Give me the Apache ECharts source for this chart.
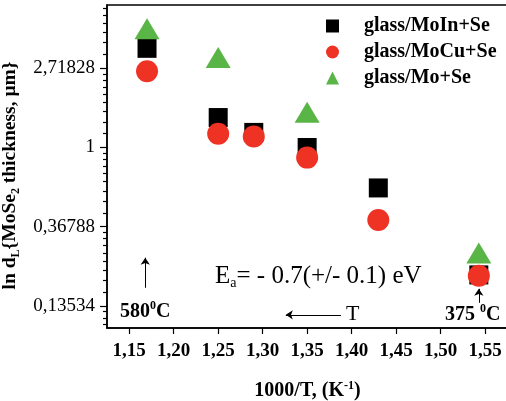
<!DOCTYPE html>
<html>
<head>
<meta charset="utf-8">
<script src="https://cdn.jsdelivr.net/npm/echarts@6/dist/echarts.min.js"></script>
<style>html,body{margin:0;padding:0;background:#fff}#c{width:506px;height:401px}</style>
</head>
<body>
<div id="c"></div>
<script>
// 1000/T values (K^-1)
var xMoIn = [1.17, 1.25, 1.29, 1.35, 1.43, 1.543];
var xMoCu = [1.17, 1.25, 1.29, 1.35, 1.43, 1.543];
var xMo   = [1.17, 1.25, 1.35, 1.543];
// thickness d_L (um)
var dMoIn = [3.50, 1.46, 1.21, 1.00, 0.60, 0.20];
var dMoCu = [2.62, 1.19, 1.15, 0.88, 0.40, 0.198];
var dMo   = [4.48, 3.12, 1.56, 0.264];
var seriesNames = ['glass/MoIn+Se', 'glass/MoCu+Se', 'glass/Mo+Se'];
var xTicks = [1.15, 1.20, 1.25, 1.30, 1.35, 1.40, 1.45, 1.50, 1.55];
var yTickLn = [-2, -1, 0, 1];
var yTickLabels = ['0,13534', '0,36788', '1', '2,71828'];

var xMin = 1.125, xMax = 1.5758;
var yMin = -2.28, yMax = 1.80;
function pts(xs, ds) { return xs.map(function (x, i) { return [x, Math.log(ds[i])]; }); }
var minor = [];
for (var n = -3; n <= 1; n++) {
  var a = Math.exp(n), b = Math.exp(n + 1);
  for (var k = 1; k <= 8; k++) {
    var v = Math.log(a + k * (b - a) / 9);
    if (v > yMin && v < yMax) minor.push(v);
  }
}
var serif = 'Liberation Serif';
var chart = echarts.init(document.getElementById('c'));
chart.setOption({
  animation: false,
  grid: { left: 107, top: 5, right: -2, bottom: 73, containLabel: false, outerBoundsMode: 'none',
          show: true, borderColor: '#000', borderWidth: 1.5, backgroundColor: 'transparent' },
  legend: {
    orient: 'vertical', left: 321, top: 11, itemWidth: 13, itemHeight: 13, itemGap: 6,
    data: seriesNames,
    textStyle: { fontFamily: serif, fontWeight: 'bold', fontSize: 20, color: '#000', padding: [0, 0, 0, 20] }
  },
  xAxis: {
    type: 'value', min: xMin, max: xMax, position: 'bottom',
    axisLine: { show: true, onZero: false, lineStyle: { color: '#000', width: 1.5 } },
    axisTick: { show: true, customValues: xTicks, length: 6, lineStyle: { color: '#000', width: 1.2 } },
    axisLabel: { customValues: xTicks, margin: 14, fontFamily: serif, fontWeight: 'bold', fontSize: 19, color: '#000',
      formatter: function (v) { return v.toFixed(2).replace('.', ','); } },
    splitLine: { show: false },
    name: '{b|1000/T, (K}{p|-1}{b|)}', nameLocation: 'middle', nameGap: 52,
    nameTextStyle: { rich: {
      b: { fontFamily: serif, fontWeight: 'bold', fontSize: 20, color: '#000', lineHeight: 22 },
      p: { fontFamily: serif, fontWeight: 'bold', fontSize: 12, color: '#000', lineHeight: 22, verticalAlign: 'top' }
    } }
  },
  yAxis: [{
    type: 'value', min: yMin, max: yMax, position: 'left',
    axisLine: { show: true, onZero: false, lineStyle: { color: '#000', width: 1.5 } },
    axisTick: { show: true, customValues: yTickLn, length: 7, lineStyle: { color: '#000', width: 1.2 } },
    axisLabel: { customValues: yTickLn, margin: 12, fontFamily: serif, fontSize: 19, color: '#000',
      formatter: function (v) { return yTickLabels[yTickLn.indexOf(Math.round(v))]; } },
    splitLine: { show: false },
    name: '{b|ln d}{s|L}{b|{MoSe}{s|2}{b| thickness, μm}}', nameLocation: 'middle', nameRotate: 90, nameGap: 77,
    nameTextStyle: { padding: [0, 18, 0, 0], fontFamily: serif, fontWeight: 'bold', fontSize: 19.5, color: '#000', lineHeight: 24,
      rich: {
      b: { fontFamily: serif, fontWeight: 'bold', fontSize: 19.5, color: '#000', lineHeight: 24 },
      s: { fontFamily: serif, fontWeight: 'bold', fontSize: 12, color: '#000', lineHeight: 24, verticalAlign: 'bottom' }
    } }
  }, {
    type: 'value', min: yMin, max: yMax, position: 'left',
    axisLine: { show: false, onZero: false },
    axisTick: { show: true, customValues: minor, length: 4, lineStyle: { color: '#000', width: 1.2 } },
    axisLabel: { show: false }, splitLine: { show: false }
  }],
  series: [{
    name: seriesNames[0], type: 'scatter', symbol: 'rect', symbolSize: 19,
    itemStyle: { color: '#000', opacity: 1 }, data: pts(xMoIn, dMoIn),
    markLine: {
      silent: true, symbol: ['none', 'arrow'], symbolSize: 7,
      label: { show: false },
      lineStyle: { color: '#000', width: 1, type: 'solid' },
      data: [
        [{ coord: [1.168, -1.772] }, { coord: [1.168, -1.392] }],
        [{ coord: [1.388, -2.114] }, { coord: [1.326, -2.114] }],
        [{ coord: [1.543, -1.962] }, { coord: [1.543, -1.785] }]
      ]
    }
  }, {
    name: seriesNames[1], type: 'scatter', symbol: 'circle', symbolSize: 22,
    itemStyle: { color: '#ee3224', opacity: 1 }, data: pts(xMoCu, dMoCu)
  }, {
    name: seriesNames[2], type: 'scatter', symbol: 'triangle', symbolSize: [25, 21],
    itemStyle: { color: '#5ab547', opacity: 1 }, data: pts(xMo, dMo)
  }],
  graphic: [
    { type: 'text', x: 215, y: 276, style: { text: '{e|E}{s|a}{e|= - 0.7(+/- 0.1) eV}', verticalAlign: 'middle',
      rich: { e: { fontFamily: serif, fontSize: 25, fill: '#000', lineHeight: 28 },
              s: { fontFamily: serif, fontSize: 14, fill: '#000', lineHeight: 28, verticalAlign: 'bottom' } } } },
    { type: 'text', x: 346, y: 314, style: { text: 'T', verticalAlign: 'middle', font: '22px "Liberation Serif"', fill: '#000' } },
    { type: 'text', x: 120, y: 312, style: { text: '{b|580}{p|0}{b|C}', verticalAlign: 'middle',
      rich: { b: { fontFamily: serif, fontWeight: 'bold', fontSize: 20, fill: '#000', lineHeight: 24 },
              p: { fontFamily: serif, fontWeight: 'bold', fontSize: 12, fill: '#000', lineHeight: 24, verticalAlign: 'top' } } } },
    { type: 'text', x: 445, y: 315, style: { text: '{b|375 }{p|0}{b|C}', verticalAlign: 'middle',
      rich: { b: { fontFamily: serif, fontWeight: 'bold', fontSize: 20, fill: '#000', lineHeight: 24 },
              p: { fontFamily: serif, fontWeight: 'bold', fontSize: 12, fill: '#000', lineHeight: 24, verticalAlign: 'top' } } } }
  ]
});
</script>
</body>
</html>
